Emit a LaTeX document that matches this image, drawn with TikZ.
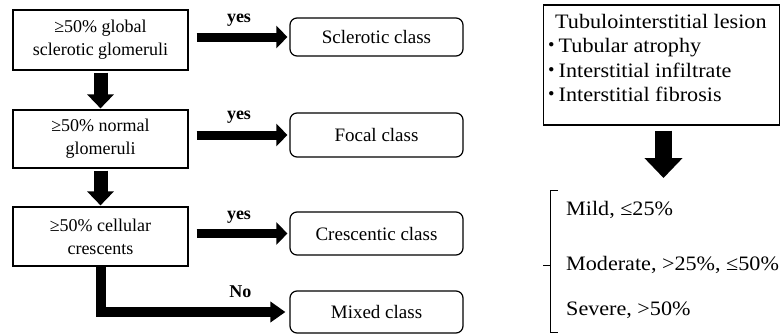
\documentclass[tikz,border=0pt]{standalone}
\usepackage{fontspec}
\setmainfont{Liberation Serif}
\newfontfamily\widefont[FakeStretch=1.08]{Liberation Serif}
\newfontfamily\cjk{Noto Sans CJK JP}
\usetikzlibrary{arrows.meta}
\begin{document}
\begin{tikzpicture}[x=1pt,y=-1pt,
  cond/.style={draw=black, line width=1.2pt, minimum width=175pt, align=center,
    font=\fontsize{18}{23}\selectfont, inner sep=0pt},
  cls/.style={draw=black, line width=1.2pt, rounded corners=7pt, minimum width=173pt,
    font=\fontsize{19}{23}\selectfont, inner sep=0pt},
  lbl/.style={font=\bfseries\fontsize{18}{20}\selectfont, inner sep=0pt},
  rarrow/.style={line width=9pt, -{Triangle[length=11pt,width=22pt]}, shorten <=8pt, shorten >=2pt},
  darrow/.style={line width=14pt, -{Triangle[length=14pt,width=26pt]}, shorten <=2pt, shorten >=1pt},
  rtext/.style={font=\widefont\fontsize{20.5}{24.5}\selectfont, inner sep=0pt}
]
\useasboundingbox (0,0) rectangle (781,335);

% left condition boxes
\node[cond, minimum height=60pt] (b1) at (100.5,40) {≥50\% global\\sclerotic glomeruli};
\node[cond, minimum height=58pt] (b2) at (100.5,139) {≥50\% normal\\glomeruli};
\node[cond, minimum height=59pt] (b3) at (100.5,236.5) {≥50\% cellular\\crescents};

% class boxes
\node[cls, minimum height=38pt] (s1) at (376.5,37) {Sclerotic class};
\node[cls, minimum height=44pt] (s2) at (376.5,135) {Focal class};
\node[cls, minimum height=43pt] (s3) at (376.5,233.5) {Crescentic class};
\node[cls, minimum height=42pt] (s4) at (376.5,312) {Mixed class};

% arrows
\draw[darrow] (b1.south) -- (b2.north);
\draw[darrow] (b2.south) -- (b3.north);
\draw[rarrow] (b1.east |- s1.west) -- (s1.west) node[midway, above=6pt, lbl] {yes};
\draw[rarrow] (b2.east |- s2.west) -- (s2.west) node[midway, above=7pt, lbl] {yes};
\draw[rarrow] (b3.east |- s3.west) -- (s3.west) node[midway, above=6pt, lbl] {yes};
\draw[line width=10pt, -{Triangle[length=15pt,width=20pt]}, shorten >=4pt]
  (b3.south) |- (s4.west) node[pos=0.87, above=9pt, lbl] {No};

% right part
\node[draw=black, line width=1.2pt, minimum width=236pt, minimum height=120pt, inner sep=0pt] (tb) at (661.5,65) {};
\node[rtext, anchor=north west, align=left] (tbt) at (555,14)
  {Tubulointerstitial lesion\\
   \kern-14pt{\cjk ・}\kern-3pt Tubular atrophy\\
   \kern-14pt{\cjk ・}\kern-3pt Interstitial infiltrate\\
   \kern-14pt{\cjk ・}\kern-3pt Interstitial fibrosis};
\coordinate (ta) at (663.5,178);
\draw[line width=17pt, -{Triangle[length=20pt,width=37pt]}, shorten <=5pt] (tb.south -| ta) -- (ta);

\coordinate (brtop) at (550,190);
\coordinate (brmid) at (550,265);
\coordinate (brbot) at (550,332);
\draw[line width=0.9pt] ([xshift=8pt]brtop) -- (brtop) -- (brbot) -- ([xshift=8pt]brbot);
\draw[line width=0.9pt] (brmid) -- ([xshift=-7pt]brmid);

\node[rtext, anchor=west] (mild) at (566,210) {Mild, ≤25\%};
\node[rtext, anchor=west] (mod) at (566,265) {Moderate, >25\%, ≤50\%};
\node[rtext, anchor=west] (sev) at (566,310) {Severe, >50\%};
\end{tikzpicture}
\end{document}
